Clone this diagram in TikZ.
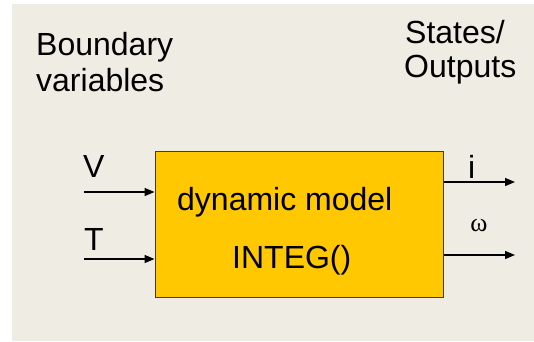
\documentclass[tikz,border=0pt]{standalone}
\usepackage{fontspec}
\setmainfont{Liberation Sans}
\newfontfamily\greekfont{Liberation Serif}
\usetikzlibrary{arrows.meta}
\definecolor{canvas}{RGB}{239,237,227}
\definecolor{blockfill}{RGB}{255,200,0}
\definecolor{blockedge}{RGB}{70,60,40}
\tikzset{
  x=1bp, y=1bp,
  label text/.style={anchor=base west, inner sep=0pt, font=\fontsize{32bp}{36bp}\selectfont},
  block/.style={draw=blockedge, fill=blockfill, line width=1bp, minimum width=288bp, minimum height=146bp, inner sep=0pt},
  signal/.style={line width=1.4bp, -{Triangle[length=10bp,width=8bp]}}
}
\begin{document}
\begin{tikzpicture}
  % page and textured canvas
  \useasboundingbox (0,0) rectangle (534,341);
  \fill[white] (0,0) rectangle (534,341);
  \fill[canvas] (12,0) rectangle (534,337);

  % headings
  \node[label text] (bv1) at (36,286) {Boundary};
  \node[label text] (bv2) at (36,250) {variables};
  \node[label text] (so1) at (405,298) {States/};
  \node[label text] (so2) at (404,264) {Outputs};

  % model block
  \node[block] (model) at (299,117) {};
  \node[label text] (dm) at (177,131) {dynamic model};
  \node[label text] (integ) at (232,73) {INTEG()};

  % inputs
  \coordinate (vin) at (84,149);
  \coordinate (tin) at (84,82);
  \draw[signal] (vin) -- (vin -| model.west);
  \draw[signal] (tin) -- (tin -| model.west);
  \node[label text] (vlab) at (83,164) {V};
  \node[label text] (tlab) at (84,91) {T};

  % outputs
  \coordinate (iout) at (515,159);
  \coordinate (wout) at (515,86);
  \draw[signal] (iout -| model.east) -- (iout);
  \draw[signal] (wout -| model.east) -- (wout);
  \node[label text] (ilab) at (468,163) {i};
  \node[anchor=base, inner sep=0pt, font=\greekfont\fontsize{26bp}{30bp}\selectfont] (wlab) at (479,110) {ω};
\end{tikzpicture}
\end{document}
